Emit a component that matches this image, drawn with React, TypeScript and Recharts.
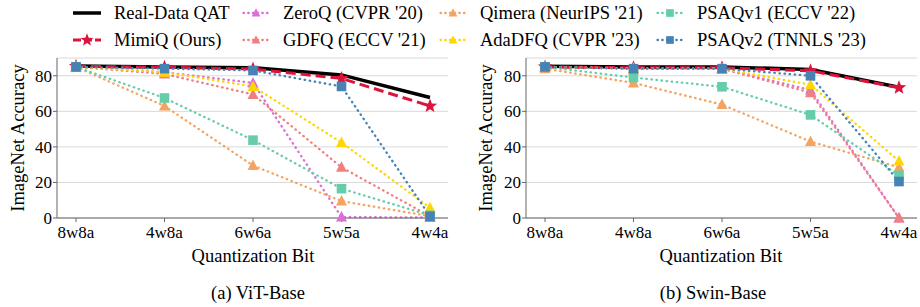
import { LineChart, Line, XAxis, YAxis, CartesianGrid } from "recharts";

const FONT = "Liberation Serif";

const BITS = ["8w8a", "4w8a", "6w6a", "5w5a", "4w4a"];
const Y_TICKS = [0, 20, 40, 60, 80];

const SERIES_NAMES = [
  "Real-Data QAT",
  "MimiQ (Ours)",
  "ZeroQ (CVPR '20)",
  "GDFQ (ECCV '21)",
  "Qimera (NeurIPS '21)",
  "AdaDFQ (CVPR '23)",
  "PSAQv1 (ECCV '22)",
  "PSAQv2 (TNNLS '23)",
];

// (a) ViT-Base
const VIT_REAL = [85.5, 85, 84.5, 80.5, 67.8];
const VIT_MIMIQ = [85.3, 84.8, 83.8, 78.5, 63];
const VIT_ZEROQ = [85, 82, 76, 0.5, 0.3];
const VIT_GDFQ = [85, 81, 69.5, 28.5, 1];
const VIT_QIMERA = [85, 63, 29.5, 9.5, 1];
const VIT_ADADFQ = [85, 82, 74, 42.5, 5.8];
const VIT_PSAQV1 = [85, 67.5, 43.8, 16.5, 1.5];
const VIT_PSAQV2 = [85, 84, 83, 74, 1];

// (b) Swin-Base
const SWIN_REAL = [85.3, 85, 85, 83.5, 73.5];
const SWIN_MIMIQ = [85, 84.5, 84.5, 82.8, 73.3];
const SWIN_ZEROQ = [85, 84, 84, 72, 0];
const SWIN_GDFQ = [85, 84, 84, 70.5, 0];
const SWIN_QIMERA = [84, 76, 63.8, 43, 28.5];
const SWIN_ADADFQ = [85, 84, 84, 75, 32];
const SWIN_PSAQV1 = [85, 79, 73.8, 58, 24];
const SWIN_PSAQV2 = [85, 84, 84, 80, 20.5];

const VIT = [VIT_REAL, VIT_MIMIQ, VIT_ZEROQ, VIT_GDFQ, VIT_QIMERA, VIT_ADADFQ, VIT_PSAQV1, VIT_PSAQV2];
const SWIN = [SWIN_REAL, SWIN_MIMIQ, SWIN_ZEROQ, SWIN_GDFQ, SWIN_QIMERA, SWIN_ADADFQ, SWIN_PSAQV1, SWIN_PSAQV2];

type Shape = "none" | "star" | "triangle" | "square";
const DOTS = "0.5 4.6";
const STYLES: { color: string; shape: Shape; dash?: string; width: number }[] = [
  { color: "#000000", shape: "none", width: 3.5 },
  { color: "#DC143C", shape: "star", dash: "10 5", width: 3 },
  { color: "#DA70D6", shape: "triangle", dash: DOTS, width: 2.3 },
  { color: "#F08080", shape: "triangle", dash: DOTS, width: 2.3 },
  { color: "#F4A460", shape: "triangle", dash: DOTS, width: 2.3 },
  { color: "#FFD700", shape: "triangle", dash: DOTS, width: 2.3 },
  { color: "#66CDAA", shape: "square", dash: DOTS, width: 2.3 },
  { color: "#4682B4", shape: "square", dash: DOTS, width: 2.3 },
];

function starPoints(cx: number, cy: number, ro: number, ri: number) {
  const pts: string[] = [];
  for (let i = 0; i < 10; i++) {
    const r = i % 2 === 0 ? ro : ri;
    const a = -Math.PI / 2 + (i * Math.PI) / 5;
    pts.push(`${cx + r * Math.cos(a)},${cy + r * Math.sin(a)}`);
  }
  return pts.join(" ");
}

function Marker({ shape, cx, cy, color, s = 1 }: { shape: Shape; cx: number; cy: number; color: string; s?: number }) {
  if (shape === "star") return <polygon points={starPoints(cx, cy, 7.5 * s, 3.2 * s)} fill={color} />;
  if (shape === "triangle")
    return (
      <polygon
        points={`${cx},${cy - 6 * s} ${cx - 5.5 * s},${cy + 4.5 * s} ${cx + 5.5 * s},${cy + 4.5 * s}`}
        fill={color}
      />
    );
  if (shape === "square") return <rect x={cx - 4.8 * s} y={cy - 4.8 * s} width={9.6 * s} height={9.6 * s} fill={color} />;
  return null;
}

function buildRows(values: number[][]) {
  return BITS.map((bit, i) => {
    const row: Record<string, number | string> = { bit };
    values.forEach((arr, k) => (row["s" + k] = arr[i]));
    return row;
  });
}

// svg text at 18px renders oddly here, 17 keeps the serif face
const TICK = { fill: "#000", fontSize: 17, fontFamily: FONT };

function Panel({ values, yWidth, right }: { values: number[][]; yWidth: number; right: number }) {
  const data = buildRows(values);
  return (
    <LineChart width={460} height={307} data={data} margin={{ top: 58, right, bottom: 0, left: 0 }}>
      <CartesianGrid horizontal vertical={false} stroke="#d9d9d9" strokeWidth={1} />
      <XAxis
        dataKey="bit"
        height={89}
        padding={{ left: 19, right: 18 }}
        tick={TICK}
        tickSize={4}
        tickMargin={4}
        stroke="#666"
        interval={0}
      />
      <XAxis xAxisId="top" orientation="top" dataKey="bit" height={0} tick={false} tickLine={false} stroke="#666" />
      <YAxis domain={[0, 90]} ticks={Y_TICKS} width={yWidth} tick={TICK} tickSize={4} tickMargin={1} stroke="#666" />
      <YAxis yAxisId="right" orientation="right" domain={[0, 90]} width={0} tick={false} tickLine={false} stroke="#666" />
      {STYLES.map((st, k) => (
        <Line
          key={k}
          dataKey={"s" + k}
          stroke={st.color}
          strokeWidth={st.width}
          strokeDasharray={st.dash}
          strokeLinecap={st.dash === DOTS ? "round" : "butt"}
          isAnimationActive={false}
          activeDot={false}
          dot={(p: any) => (
            <Marker key={`d${k}-${p.index}`} shape={st.shape} cx={p.cx} cy={p.cy} color={st.color} />
          )}
        />
      ))}
    </LineChart>
  );
}

const LEGEND_X = [114, 283, 480, 697];
const LEGEND_Y = [13, 40];

function Legend() {
  return (
    <>
      <svg width={920} height={55} style={{ position: "absolute", left: 0, top: 0 }}>
        {SERIES_NAMES.map((name, i) => {
          const st = STYLES[i];
          const hx = LEGEND_X[Math.floor(i / 2)] - 27;
          const y = LEGEND_Y[i % 2];
          return (
            <g key={name}>
              <line
                x1={hx - 14}
                x2={hx + 14}
                y1={y}
                y2={y}
                stroke={st.color}
                strokeWidth={st.width}
                strokeDasharray={st.dash === DOTS ? "0.5 4.2" : st.dash ? "8 3" : undefined}
                strokeDashoffset={st.dash === DOTS ? -1.5 : 0}
                strokeLinecap={st.dash === DOTS ? "round" : "butt"}
              />
              <Marker shape={st.shape} cx={hx} cy={y} color={st.color} s={st.shape === "star" ? 0.9 : 0.8} />
            </g>
          );
        })}
      </svg>
      {SERIES_NAMES.map((name, i) => (
        <div
          key={name}
          style={{
            position: "absolute",
            left: LEGEND_X[Math.floor(i / 2)],
            top: LEGEND_Y[i % 2],
            transform: "translateY(-50%)",
            whiteSpace: "nowrap",
            fontSize: 18.5,
            lineHeight: 1,
            color: "#000",
          }}
        >
          {name}
        </div>
      ))}
    </>
  );
}

function Label({ x, y, text, rotate }: { x: number; y: number; text: string; rotate?: boolean }) {
  return (
    <div
      style={{
        position: "absolute",
        left: x,
        top: y,
        transform: `translate(-50%, -50%)${rotate ? " rotate(-90deg)" : ""}`,
        whiteSpace: "nowrap",
        fontSize: 18.5,
        lineHeight: 1,
        color: "#000",
      }}
    >
      {text}
    </div>
  );
}

export default function App() {
  return (
    <div
      style={{
        position: "absolute",
        left: 0,
        top: 0,
        width: 920,
        height: 307,
        background: "#fff",
        fontFamily: FONT,
        overflow: "hidden",
      }}
    >
      <div style={{ position: "absolute", left: 0, top: 0 }}>
        <Panel values={VIT} yWidth={57} right={12} />
      </div>
      <div style={{ position: "absolute", left: 460, top: 0 }}>
        <Panel values={SWIN} yWidth={66} right={3} />
      </div>
      <Legend />
      <Label x={18} y={138} text="ImageNet Accuracy" rotate />
      <Label x={486} y={138} text="ImageNet Accuracy" rotate />
      <Label x={253} y={256} text="Quantization Bit" />
      <Label x={721} y={256} text="Quantization Bit" />
      <Label x={258} y={293} text="(a) ViT-Base" />
      <Label x={713} y={293} text="(b) Swin-Base" />
    </div>
  );
}
